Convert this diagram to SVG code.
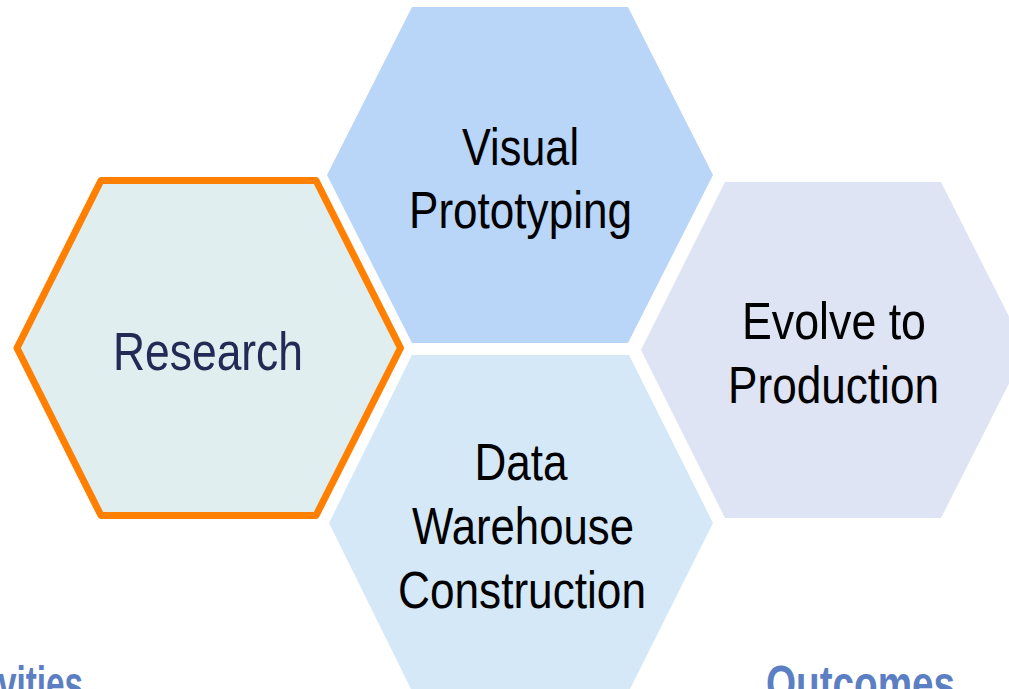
<svg xmlns="http://www.w3.org/2000/svg" width="1009" height="689" viewBox="0 0 1009 689">
<style>
.lbl{font-family:"Liberation Sans",Arial,sans-serif;font-size:52px;fill:#000}
.res{font-family:"Liberation Sans",Arial,sans-serif;font-size:53px;fill:#232A56}
.sec{font-family:"Liberation Sans",Arial,sans-serif;font-size:50px;font-weight:bold;fill:#5B7FC2}
</style>
<rect width="1009" height="689" fill="#FFFFFF"/>
<g id="connectors"></g>
<g id="node-visual">
<polygon points="327,175 412,7 628,7 713,175 628,343 412,343" fill="#B9D5F8"/>
<text class="lbl" x="462" y="165" textLength="117" lengthAdjust="spacingAndGlyphs">Visual</text>
<text class="lbl" x="409" y="228" textLength="223" lengthAdjust="spacingAndGlyphs">Prototyping</text>
</g>
<g id="node-data">
<polygon points="329,523 412,355 629,355 713,523 629,691 412,691" fill="#D5E8F8"/>
<text class="lbl" x="474.5" y="480" textLength="93" lengthAdjust="spacingAndGlyphs">Data</text>
<text class="lbl" x="412" y="544" textLength="222" lengthAdjust="spacingAndGlyphs">Warehouse</text>
<text class="lbl" x="398" y="608" textLength="248" lengthAdjust="spacingAndGlyphs">Construction</text>
</g>
<g id="node-evolve">
<polygon points="641,350 725,182 941,182 1026,350 941,518 725,518" fill="#DEE4F3"/>
<text class="lbl" x="742" y="339" textLength="184" lengthAdjust="spacingAndGlyphs">Evolve to</text>
<text class="lbl" x="728" y="403" textLength="211" lengthAdjust="spacingAndGlyphs">Production</text>
</g>
<g id="node-research">
<polygon points="17,348 101,180.5 316,180.5 400.5,348 316,515.5 101,515.5" fill="#E0EEF0" stroke="#FF7F00" stroke-width="7" stroke-linejoin="round"/>
<text class="res" x="113" y="370" textLength="190" lengthAdjust="spacingAndGlyphs">Research</text>
</g>
<g id="labels">
<text class="sec" x="-65" y="701" textLength="148" lengthAdjust="spacingAndGlyphs">Activities</text>
<text class="sec" x="766" y="701" textLength="189" lengthAdjust="spacingAndGlyphs">Outcomes</text>
</g>
</svg>
